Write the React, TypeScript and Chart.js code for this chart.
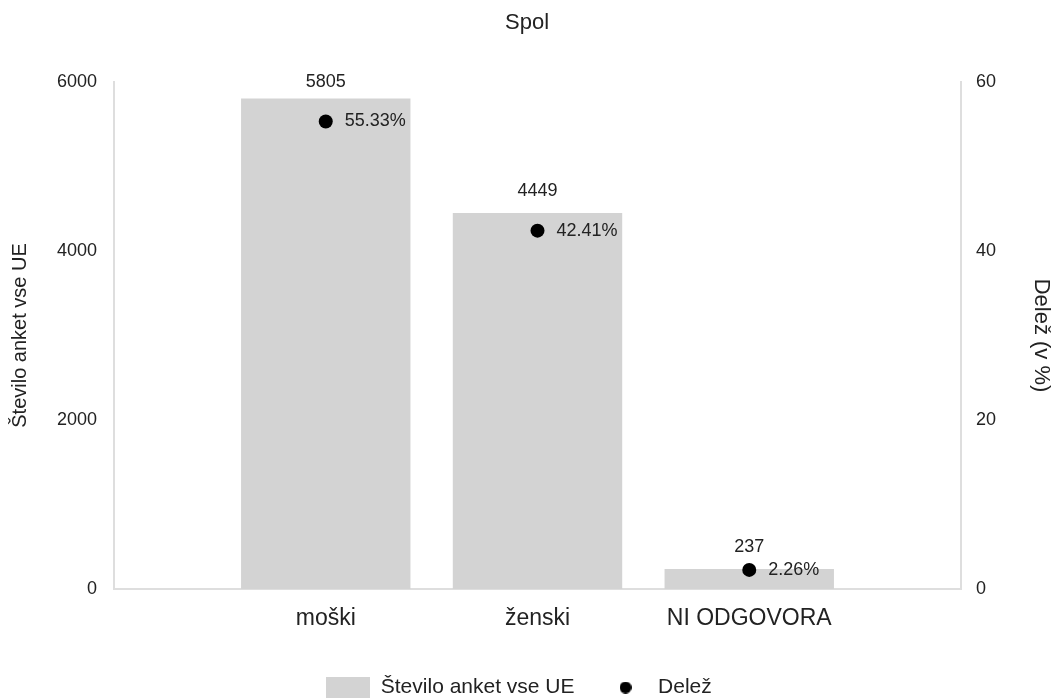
import React, { useEffect, useRef } from "react";
import { Chart, registerables } from "chart.js";

Chart.register(...registerables);

const chartTitle = "Spol";
const categories = ["", "moški", "ženski", "NI ODGOVORA", ""];
const counts: (number | null)[] = [null, 5805, 4449, 237, null];
const shares: (number | null)[] = [null, 55.33, 42.41, 2.26, null];
const countLabel = "Število anket vse UE";
const shareLabel = "Delež";
const leftAxisTitle = "Število anket vse UE";
const rightAxisTitle = "Delež (v %)";
const countAxis = { min: 0, max: 6000, step: 2000 };
const shareAxis = { min: 0, max: 60, step: 20 };

const FONT = "'Liberation Sans', Arial, sans-serif";
const TEXT = "#222";
const BAR = "#d3d3d3";
const AXIS = "#dedede";

function makeRectImage(w: number, h: number, color: string) {
  const c = document.createElement("canvas");
  c.width = w;
  c.height = h;
  const ctx = c.getContext("2d")!;
  ctx.fillStyle = color;
  ctx.fillRect(0, 0, w, h);
  return c;
}

function makeDotImage(d: number, color: string) {
  const c = document.createElement("canvas");
  c.width = d;
  c.height = d;
  const ctx = c.getContext("2d")!;
  ctx.fillStyle = color;
  ctx.beginPath();
  ctx.arc(d / 2, d / 2, d / 2, 0, Math.PI * 2);
  ctx.fill();
  return c;
}

const valueLabels = {
  id: "valueLabels",
  afterDatasetsDraw(chart: any) {
    const ctx = chart.ctx;
    const area = chart.chartArea;
    ctx.save();
    ctx.fillStyle = TEXT;
    ctx.font = `18px ${FONT}`;
    ctx.textBaseline = "middle";
    const barMeta = chart.getDatasetMeta(0);
    barMeta.data.forEach((el: any, i: number) => {
      const v = counts[i];
      if (v == null) return;
      ctx.textAlign = "center";
      const y = Math.max(el.y - 22, area.top);
      ctx.fillText(String(v), el.x, y);
    });
    const ptMeta = chart.getDatasetMeta(1);
    ptMeta.data.forEach((el: any, i: number) => {
      const v = shares[i];
      if (v == null) return;
      ctx.textAlign = "left";
      ctx.fillText(`${v.toFixed(2)}%`, el.x + 19, el.y);
    });
    ctx.restore();
  },
};

const legendShift = {
  id: "legendShift",
  afterLayout(chart: any) {
    const lg = chart.legend;
    if (!lg) return;
    lg.left -= 8;
    lg.right -= 8;
  },
};

export default function App() {
  const ref = useRef<HTMLCanvasElement | null>(null);
  useEffect(() => {
    if (!ref.current) return;
    const rectImg = makeRectImage(44, 21, BAR);
    const dotImg = makeDotImage(12, "#000");
    const chart = new Chart(ref.current, {
      type: "bar",
      data: {
        labels: categories,
        datasets: [
          {
            type: "bar",
            label: countLabel,
            data: counts,
            backgroundColor: BAR,
            borderWidth: 0,
            barPercentage: 0.8,
            categoryPercentage: 1,
            yAxisID: "y",
            order: 1,
          } as any,
          {
            type: "line",
            label: shareLabel,
            data: shares,
            showLine: false,
            pointRadius: 7,
            pointHoverRadius: 7,
            pointBackgroundColor: "#000",
            pointBorderWidth: 0,
            backgroundColor: "#000",
            borderColor: "#000",
            yAxisID: "y1",
            order: 0,
          } as any,
        ],
      },
      options: {
        responsive: false,
        animation: false,
        events: [],
        layout: { padding: 0 },
        plugins: {
          title: {
            display: true,
            text: chartTitle,
            color: TEXT,
            font: { family: FONT, size: 22, weight: "normal" },
            padding: { top: 10, bottom: 45.6 },
          },
          legend: {
            position: "bottom",
            labels: {
              usePointStyle: true,
              pointStyleWidth: 44,
              boxHeight: 20,
              padding: 29,
              color: TEXT,
              font: { family: FONT, size: 21 },
              generateLabels: () => [
                {
                  text: countLabel,
                  pointStyle: rectImg as any,
                  fillStyle: BAR,
                  strokeStyle: "transparent",
                  lineWidth: 0,
                  hidden: false,
                  datasetIndex: 0,
                  fontColor: TEXT,
                },
                {
                  text: shareLabel,
                  pointStyle: dotImg as any,
                  fillStyle: "#000",
                  strokeStyle: "transparent",
                  lineWidth: 0,
                  hidden: false,
                  datasetIndex: 1,
                  fontColor: TEXT,
                },
              ],
            },
          },
          tooltip: { enabled: false },
        },
        scales: {
          x: {
            type: "category",
            offset: false,
            grid: { display: false, drawTicks: false },
            border: { display: true, color: AXIS, width: 2 },
            ticks: {
              color: TEXT,
              font: { family: FONT, size: 23 },
              padding: 16,
              maxRotation: 0,
              autoSkip: false,
            },
            afterFit: (s: any) => {
              s.height = 59;
            },
          },
          y: {
            position: "left",
            min: countAxis.min,
            max: countAxis.max,
            grid: { display: false, drawTicks: false },
            border: { display: true, color: AXIS, width: 2 },
            ticks: {
              stepSize: countAxis.step,
              color: TEXT,
              font: { family: FONT, size: 18 },
              padding: 17,
              callback: (v: any) => String(v),
            },
            title: {
              display: true,
              text: leftAxisTitle,
              color: TEXT,
              font: { family: FONT, size: 20 },
              padding: { top: 8, bottom: 0 },
            },
            afterFit: (s: any) => {
              s.width = 114;
            },
          },
          y1: {
            position: "right",
            min: shareAxis.min,
            max: shareAxis.max,
            grid: { display: false, drawTicks: false },
            border: { display: true, color: AXIS, width: 2 },
            ticks: {
              stepSize: shareAxis.step,
              color: TEXT,
              font: { family: FONT, size: 18 },
              padding: 15,
              callback: (v: any) => String(v),
            },
            title: {
              display: true,
              text: rightAxisTitle,
              color: TEXT,
              font: { family: FONT, size: 22 },
              padding: { top: 0, bottom: 0 },
            },
            afterFit: (s: any) => {
              s.width = 93;
            },
          },
        },
      } as any,
      plugins: [valueLabels, legendShift],
    });
    return () => chart.destroy();
  }, []);

  return (
    <div
      style={{
        position: "absolute",
        left: 0,
        top: 0,
        width: 1054,
        height: 700,
        overflow: "hidden",
        background: "#fff",
      }}
    >
      <canvas ref={ref} width={1054} height={708} style={{ display: "block" }} />
    </div>
  );
}
